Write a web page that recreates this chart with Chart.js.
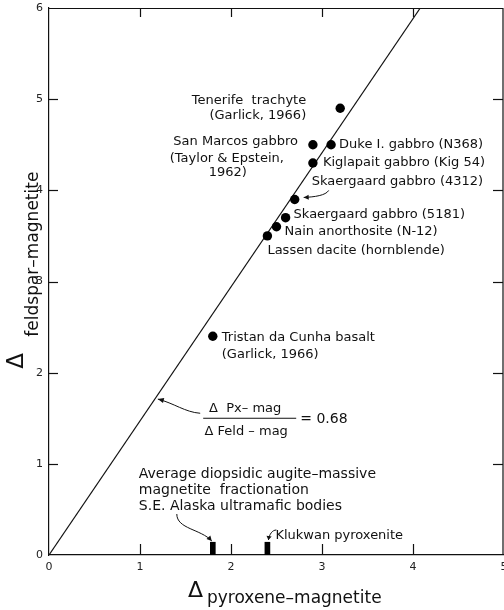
<!DOCTYPE html>
<html>
<head>
<meta charset="utf-8">
<script src="https://cdn.jsdelivr.net/npm/chart.js@4.4.1/dist/chart.umd.min.js"></script>
<style>
  html, body { margin: 0; padding: 0; background: #fff; overflow: hidden; }
  #wrap { width: 504px; height: 610px; position: relative; }
</style>
</head>
<body>
<div id="wrap"><canvas id="chart"></canvas></div>
<script>
// Oxygen-isotope fractionations between coexisting minerals (per mil)
const sampleNames = [
  'Tenerife trachyte', 'San Marcos gabbro', 'Duke I. gabbro (N368)',
  'Kiglapait gabbro (Kig 54)', 'Skaergaard gabbro (4312)', 'Skaergaard gabbro (5181)',
  'Nain anorthosite (N-12)', 'Lassen dacite (hornblende)', 'Tristan da Cunha basalt'
];
const pyroxeneMagnetite = [3.2, 2.9, 3.1, 2.9, 2.7, 2.6, 2.5, 2.4, 1.8];
const feldsparMagnetite = [4.9, 4.5, 4.5, 4.3, 3.9, 3.7, 3.6, 3.5, 2.4];

// Label text for each sample, one entry per line
const sampleLabelLines = [
  ['Tenerife  trachyte', '(Garlick, 1966)'],
  ['San Marcos gabbro', '(Taylor & Epstein,', '1962)'],
  ['Duke I. gabbro (N368)'],
  ['Kiglapait gabbro (Kig 54)'],
  ['Skaergaard gabbro (4312)'],
  ['Skaergaard gabbro (5181)'],
  ['Nain anorthosite (N-12)'],
  ['Lassen dacite (hornblende)'],
  ['Tristan da Cunha basalt', '(Garlick, 1966)']
];

// Pyroxene–magnetite fractionations measured without feldspar (S.E. Alaska)
const alaskaNames = ['S.E. Alaska ultramafic bodies', 'Klukwan pyroxenite'];
const alaskaPyroxeneMagnetite = [1.8, 2.4];

// Reference line: Δ Px-mag / Δ Feld-mag = 0.68
const pxFeldRatio = 0.68;
const refLineFeldspar = [0, 6];

const xTickValues = [0, 1, 2, 3, 4, 5];
const yTickValues = [0, 1, 2, 3, 4, 5, 6];

// ---- styling / placement ----
const FONT = "'DejaVu Sans', sans-serif";
const INK = '#111';
const MARK_HEIGHT = 0.14;   // height of the Alaska marks on the x axis

// label offsets in pixels from each sample's point
const sampleLabelLayout = [
  { align: 'right', dx: [-34, -34], dy: [-8, 7] },
  { align: 'right', dx: [-15, -29, -66], dy: [-3, 14, 28] },
  { align: 'left', dx: [8], dy: [0] },
  { align: 'left', dx: [10], dy: [0] },
  { align: 'left', dx: [17], dy: [-18], arrow: [[34, -9], [31, -4], [20, -2.5], [9, -2]] },
  { align: 'left', dx: [8], dy: [-3] },
  { align: 'left', dx: [8], dy: [5] },
  { align: 'left', dx: [0], dy: [15] },
  { align: 'left', dx: [9, 9], dy: [1, 18] }
];

const refLinePoints = refLineFeldspar.map(f => ({ x: f * pxFeldRatio, y: f }));

function drawArrow(ctx, pts, head) {
  const [p0, c1, c2, p3] = pts;
  ctx.beginPath();
  ctx.moveTo(p0[0], p0[1]);
  ctx.bezierCurveTo(c1[0], c1[1], c2[0], c2[1], p3[0], p3[1]);
  ctx.stroke();
  const ang = Math.atan2(p3[1] - c2[1], p3[0] - c2[0]);
  const L = head || 6, W = 2.6;
  ctx.beginPath();
  ctx.moveTo(p3[0], p3[1]);
  ctx.lineTo(p3[0] - L * Math.cos(ang) + W * Math.sin(ang), p3[1] - L * Math.sin(ang) - W * Math.cos(ang));
  ctx.lineTo(p3[0] - L * Math.cos(ang) - W * Math.sin(ang), p3[1] - L * Math.sin(ang) + W * Math.cos(ang));
  ctx.closePath();
  ctx.fill();
}

const notesPlugin = {
  id: 'notes',
  afterDraw(chart) {
    const { ctx, chartArea: a } = chart;
    const xs = chart.scales.x, ys = chart.scales.y;
    const X = v => xs.getPixelForValue(v), Y = v => ys.getPixelForValue(v);
    ctx.save();
    ctx.strokeStyle = INK;
    ctx.fillStyle = INK;

    // frame top and right
    ctx.lineWidth = 1.2;
    ctx.beginPath();
    ctx.moveTo(a.left, a.top + 0.5);
    ctx.lineTo(a.right - 1, a.top + 0.5);
    ctx.lineTo(a.right - 1, a.bottom);
    ctx.stroke();

    // inward tick marks
    xTickValues.slice(1, -1).forEach(v => {
      const x = Math.round(X(v)) + 0.5;
      ctx.beginPath(); ctx.moveTo(x, a.bottom); ctx.lineTo(x, a.bottom - 11); ctx.stroke();
      ctx.beginPath(); ctx.moveTo(x, a.top); ctx.lineTo(x, a.top + 9); ctx.stroke();
    });
    yTickValues.slice(1, -1).forEach(v => {
      const y = Math.round(Y(v)) + 0.5;
      ctx.beginPath(); ctx.moveTo(a.left, y); ctx.lineTo(a.left + 9, y); ctx.stroke();
      ctx.beginPath(); ctx.moveTo(a.right - 1, y); ctx.lineTo(a.right - 11, y); ctx.stroke();
    });

    // sample labels
    ctx.font = '13px ' + FONT;
    ctx.textBaseline = 'middle';
    ctx.lineWidth = 1;
    sampleLabelLines.forEach((lines, i) => {
      const L = sampleLabelLayout[i];
      const px = X(pyroxeneMagnetite[i]), py = Y(feldsparMagnetite[i]);
      ctx.textAlign = L.align;
      lines.forEach((t, k) => ctx.fillText(t, px + L.dx[k], py + L.dy[k]));
      if (L.arrow) drawArrow(ctx, L.arrow.map(p => [px + p[0], py + p[1]]), 5);
    });

    // ratio annotation on the reference line
    const ex = X(2.2), ey = Y(1.5);
    ctx.lineWidth = 1;
    ctx.beginPath(); ctx.moveTo(ex - 46, ey); ctx.lineTo(ex + 47, ey); ctx.stroke();
    ctx.font = '13px ' + FONT;
    ctx.textAlign = 'center';
    ctx.fillText('\u0394  Px\u2013 mag', ex - 4, ey - 10);
    ctx.fillText('\u0394 Feld \u2013 mag', ex - 3, ey + 13);
    ctx.font = '14px ' + FONT;
    ctx.textAlign = 'left';
    ctx.fillText('= 0.68', ex + 51, ey + 1);
    const tf = 1.71;
    const tx = X(tf * pxFeldRatio) + 3, ty = Y(tf);
    drawArrow(ctx, [[ex - 49, ey - 5], [ex - 64, ey - 6], [tx + 16, ty + 4], [tx, ty]], 6);

    // Alaska notes above the x axis
    const b1 = X(alaskaPyroxeneMagnetite[0]), b2 = X(alaskaPyroxeneMagnetite[1]), y0 = Y(0);
    ctx.font = '14px ' + FONT;
    ctx.textAlign = 'left';
    ['Average diopsidic augite\u2013massive', 'magnetite  fractionation', alaskaNames[0]]
      .forEach((t, k) => ctx.fillText(t, b1 - 74, y0 - 81 + k * 16));
    drawArrow(ctx, [[b1 - 36, y0 - 41], [b1 - 36, y0 - 26], [b1 - 12, y0 - 26], [b1 - 1, y0 - 14]], 5);
    ctx.font = '13px ' + FONT;
    ctx.fillText(alaskaNames[1], b2 + 8, y0 - 19);
    drawArrow(ctx, [[b2 + 9, y0 - 25], [b2 + 5, y0 - 25], [b2 + 2, y0 - 21], [b2 + 1, y0 - 15]], 4);

    // axis titles
    ctx.textAlign = 'left';
    ctx.textBaseline = 'alphabetic';
    ctx.font = '22px ' + FONT;
    ctx.fillText('\u0394', a.left + 139, a.bottom + 42);
    ctx.font = '17px ' + FONT;
    ctx.fillText('pyroxene\u2013magnetite', a.left + 158, a.bottom + 48);

    ctx.save();
    ctx.translate(23, Y(2) - 4);
    ctx.rotate(-Math.PI / 2);
    ctx.font = '23px ' + FONT;
    ctx.fillText('\u0394', 0, 0);
    ctx.restore();
    ctx.save();
    ctx.translate(38, Y(2) - 36);
    ctx.rotate(-Math.PI / 2);
    ctx.font = '17px ' + FONT;
    ctx.fillText('feldspar\u2013magnetite', 0, 0);
    ctx.restore();

    ctx.restore();
  }
};

Chart.defaults.font.family = FONT;
Chart.defaults.color = INK;

new Chart(document.getElementById('chart'), {
  type: 'scatter',
  data: {
    datasets: [
      {
        label: 'Samples',
        data: pyroxeneMagnetite.map((x, i) => ({ x, y: feldsparMagnetite[i], name: sampleNames[i] })),
        pointRadius: 4.7,
        pointHoverRadius: 4.7,
        backgroundColor: '#000',
        borderWidth: 0
      },
      {
        label: 'Px-mag / Feld-mag = 0.68',
        data: refLinePoints,
        showLine: true,
        pointRadius: 0,
        borderColor: INK,
        borderWidth: 1.2,
        fill: false
      },
      {
        type: 'bar',
        label: 'S.E. Alaska',
        data: alaskaPyroxeneMagnetite.map(x => ({ x, y: MARK_HEIGHT })),
        backgroundColor: '#000',
        barThickness: 5,
        grouped: false
      }
    ]
  },
  options: {
    responsive: true,
    maintainAspectRatio: false,
    animation: false,
    events: [],
    layout: { autoPadding: false, padding: { top: 8, right: 0, left: 0, bottom: 0 } },
    plugins: { legend: { display: false }, tooltip: { enabled: false } },
    scales: {
      x: {
        type: 'linear', min: 0, max: 5, offset: false,
        afterBuildTicks: s => { s.ticks = xTickValues.map(v => ({ value: v })); },
        afterFit: s => { s.height = 55; s.paddingLeft = 0; s.paddingRight = 0; },
        grid: { display: false, drawTicks: false },
        border: { display: true, color: INK, width: 1.2 },
        ticks: { padding: 6, font: { size: 11 }, color: '#222', maxRotation: 0, autoSkip: false }
      },
      y: {
        type: 'linear', min: 0, max: 6,
        afterBuildTicks: s => { s.ticks = yTickValues.map(v => ({ value: v })); },
        afterFit: s => { s.width = 49; s.paddingTop = 0; s.paddingBottom = 0; },
        grid: { display: false, drawTicks: false },
        border: { display: true, color: INK, width: 1.2 },
        ticks: { padding: 6, font: { size: 11 }, color: '#222', autoSkip: false }
      }
    }
  },
  plugins: [notesPlugin]
});
</script>
</body>
</html>
